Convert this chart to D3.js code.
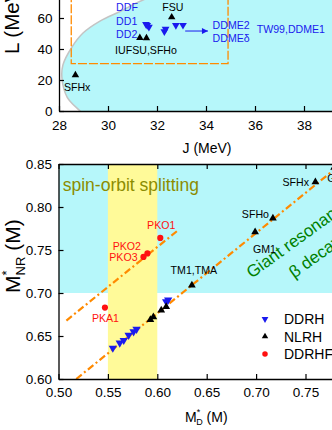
<!DOCTYPE html>
<html>
<head>
<meta charset="utf-8">
<script src="https://cdn.jsdelivr.net/npm/d3@7"></script>
<style>
  body { margin: 0; background: #fff; }
  svg { display: block; font-family: "Liberation Sans", Arial, sans-serif; }
</style>
</head>
<body>
<svg id="chart"></svg>
<script>
// ---------- top panel data: J (MeV) vs L (MeV)
const boundJ = [29.6, 28.86, 28.33, 28.12, 28.16, 28.53, 28.98, 29.67, 30.49, 31.43, 32.6, 34.0];
const boundL = [-10, 0, 9, 21.3, 29.7, 41.3, 50.3, 58, 64.2, 71.6, 77, 83];
const boxJ = [28.5, 34.9];
const boxL = [30.6, 86.8];

const nlrhTopJ = [28.67, 31.3, 31.57, 32.6];
const nlrhTopL = [23.2, 47.2, 47.1, 60.5];
const ddrhTopJ = [31.55, 31.6, 31.67, 32.3, 32.35, 32.77, 33.06];
const ddrhTopL = [56.0, 55.3, 54.2, 51.3, 52.9, 55.3, 55.4];
const arrowJ = [33.15, 34.08];
const arrowL = [51.6, 51.6];

// labels: text, J, L (label reference point), anchor, colour
const topLabels = [
  ["DDF", 30.33, 67.1, "start", "blue"],
  ["DD1", 30.33, 58.1, "start", "blue"],
  ["DD2", 30.33, 49.7, "start", "blue"],
  ["DDME2", 34.27, 55.5, "start", "blue"],
  ["DDMEδ", 34.27, 47.1, "start", "blue"],
  ["TW99,DDME1", 36.07, 52.9, "start", "blue"],
  ["FSU", 32.65, 67.1, "middle", "black"],
  ["IUFSU,SFHo", 30.29, 39.4, "start", "black"],
  ["SFHx", 28.2, 15.5, "start", "black"]
];

const topXTicks = [28, 30, 32, 34, 36, 38];
const topYTicks = [0, 20, 40, 60];

// ---------- bottom panel data: M*_D vs M*_NR
const ddrhMD = [0.555, 0.562, 0.566, 0.571, 0.576, 0.579, 0.609, 0.611];
const ddrhMNR = [0.636, 0.642, 0.645, 0.651, 0.655, 0.658, 0.690, 0.692];
const nlrhMD = [0.593, 0.596, 0.604, 0.609, 0.635, 0.699, 0.717, 0.760, 0.779];
const nlrhMNR = [0.669, 0.672, 0.680, 0.684, 0.709, 0.771, 0.787, 0.829, 0.846];
const ddrhfMD = [0.547, 0.586, 0.590, 0.603];
const ddrhfMNR = [0.683, 0.742, 0.746, 0.764];

const fitNlrhMD = [0.518, 0.80];
const fitNlrhMNR = [0.60, 0.863];
const fitDdrhfMD = [0.508, 0.62];
const fitDdrhfMNR = [0.668, 0.772];

const spinOrbitMD = [0.55, 0.60];
const resonanceMNR = [0.70, 0.85];

const bottomLabels = [
  ["PKA1", 0.5475, 0.6705, "middle", "red"],
  ["PKO2", 0.5835, 0.7545, "end", "red"],
  ["PKO3", 0.5800, 0.7415, "end", "red"],
  ["PKO1", 0.6040, 0.7790, "middle", "red"],
  ["TM1,TMA", 0.6370, 0.7265, "middle", "black"],
  ["GM1", 0.7085, 0.7505, "middle", "black"],
  ["SFHo", 0.7130, 0.7920, "end", "black"],
  ["SFHx", 0.7535, 0.8290, "end", "black"],
  ["GM3", 0.7720, 0.8340, "start", "black"]
];

const bottomXTicks = [0.50, 0.55, 0.60, 0.65, 0.70, 0.75];
const bottomYTicks = [0.60, 0.65, 0.70, 0.75, 0.80, 0.85];
const legendNames = ["DDRH", "NLRH", "DDRHF"];

const W = 332, H = 430;
const cyan = "#b6f7fa", yellow = "#fffa99", orange = "#ff8a00";
const blue = "#1a1aee", red = "#ff1010";
const tickFont = 13.5, labelFont = 10.6;

const svg = d3.select("#chart").attr("width", W).attr("height", H);
const defs = svg.append("defs");

defs.append("marker")
  .attr("id", "arrow")
  .attr("viewBox", "0 0 10 10")
  .attr("refX", 10).attr("refY", 5)
  .attr("markerWidth", 7).attr("markerHeight", 6)
  .attr("markerUnits", "userSpaceOnUse")
  .attr("orient", "auto")
  .append("path").attr("d", "M0,0L10,5L0,10Z").attr("fill", blue);

function symbolPath(type, size) {
  return d3.symbol().type(type).size(size)();
}

function drawMarkers(g, xs, ys, sx, sy, type, color, size, rot) {
  g.selectAll(null)
    .data(xs.map((d, i) => [d, ys[i]]))
    .join("path")
    .attr("d", symbolPath(type, size))
    .attr("transform", (d) => `translate(${sx(d[0])},${sy(d[1])}) rotate(${rot})`)
    .attr("fill", color);
}

function drawLabels(g, labels, sx, sy) {
  g.selectAll(null)
    .data(labels)
    .join("text")
    .attr("x", (d) => sx(d[1]))
    .attr("y", (d) => sy(d[2]))
    .attr("dy", "0.36em")
    .attr("text-anchor", (d) => d[3])
    .attr("fill", (d) => (d[4] == "blue" ? blue : d[4] == "red" ? red : "#000"))
    .attr("font-size", labelFont)
    .text((d) => d[0]);
}

function styleAxis(g) {
  g.selectAll("path.domain").attr("stroke", "#000").attr("stroke-width", 1.3);
  g.selectAll(".tick line").attr("stroke", "#000").attr("stroke-width", 1.2);
  g.selectAll("text").attr("font-size", tickFont).attr("fill", "#000").attr("font-family", null);
}

// =================== top panel
const xJ = d3.scaleLinear().domain([28, 40]).range([59, 353]);
const yL = d3.scaleLinear().domain([0, 80]).range([111, -13]);

defs.append("clipPath").attr("id", "clipTop")
  .append("rect").attr("x", xJ(28)).attr("y", yL(80))
  .attr("width", xJ(40) - xJ(28)).attr("height", yL(0) - yL(80));

const topPanel = svg.append("g");
const topPlot = topPanel.append("g").attr("clip-path", "url(#clipTop)");

const boundPts = boundJ.map((d, i) => [xJ(d), yL(boundL[i])]);
const boundLine = d3.line().curve(d3.curveCatmullRom);
topPlot.append("path")
  .attr("d", boundLine(boundPts) +
    `L${xJ(40)},${yL(90)}L${xJ(40)},${yL(-10)}Z`)
  .attr("fill", cyan);
topPlot.append("path")
  .attr("d", boundLine(boundPts))
  .attr("fill", "none")
  .attr("stroke", "#c4c4c4")
  .attr("stroke-width", 1.5);

topPlot.append("rect")
  .attr("x", xJ(boxJ[0])).attr("y", yL(boxL[1]))
  .attr("width", xJ(boxJ[1]) - xJ(boxJ[0]))
  .attr("height", yL(boxL[0]) - yL(boxL[1]))
  .attr("fill", "none")
  .attr("stroke", orange)
  .attr("stroke-width", 1.3)
  .attr("stroke-dasharray", "9,2");

topPlot.append("line")
  .attr("x1", xJ(arrowJ[0])).attr("y1", yL(arrowL[0]))
  .attr("x2", xJ(arrowJ[1])).attr("y2", yL(arrowL[1]))
  .attr("stroke", blue).attr("stroke-width", 1)
  .attr("marker-end", "url(#arrow)");

drawMarkers(topPlot, ddrhTopJ, ddrhTopL, xJ, yL, d3.symbolTriangle, blue, 26, 180);
drawMarkers(topPlot, nlrhTopJ, nlrhTopL, xJ, yL, d3.symbolTriangle, "#000", 24, 0);
drawLabels(topPlot, topLabels, xJ, yL);

// axes (ticks point inward)
const topX = topPanel.append("g").attr("transform", `translate(0,${yL(0)})`);
topX.call(d3.axisBottom(xJ).tickValues(d3.range(28, 40, 1)).tickSize(-3).tickFormat(""));
topX.call(d3.axisBottom(xJ).tickValues(topXTicks).tickSize(-5).tickSizeOuter(0).tickPadding(9));
styleAxis(topX);

const topY = topPanel.append("g").attr("transform", `translate(${xJ(28)},0)`);
topY.call(d3.axisLeft(yL).tickValues([10, 30, 50, 70]).tickSize(-3).tickFormat(""));
topY.call(d3.axisLeft(yL).tickValues(topYTicks).tickSize(-5).tickSizeOuter(0).tickPadding(6.5));
styleAxis(topY);

topPanel.append("text")
  .attr("x", 207).attr("y", 153)
  .attr("text-anchor", "middle")
  .attr("font-size", 14)
  .text("J (MeV)");

topPanel.append("text")
  .attr("transform", "translate(19,54) rotate(-90)")
  .attr("font-size", 20.5)
  .text("L (MeV)");

// =================== bottom panel
const xD = d3.scaleLinear().domain([0.5, 0.8]).range([58.5, 354.9]);
const yN = d3.scaleLinear().domain([0.6, 0.85]).range([379, 164]);

defs.append("clipPath").attr("id", "clipBottom")
  .append("rect").attr("x", xD(0.5)).attr("y", yN(0.85))
  .attr("width", xD(0.8) - xD(0.5)).attr("height", yN(0.6) - yN(0.85));

const bottomPanel = svg.append("g");
const plot = bottomPanel.append("g").attr("clip-path", "url(#clipBottom)");

plot.append("rect")
  .attr("x", xD(0.5)).attr("y", yN(resonanceMNR[1]))
  .attr("width", xD(0.8) - xD(0.5))
  .attr("height", yN(resonanceMNR[0]) - yN(resonanceMNR[1]))
  .attr("fill", cyan);
plot.append("rect")
  .attr("x", xD(spinOrbitMD[0])).attr("y", yN(0.85))
  .attr("width", xD(spinOrbitMD[1]) - xD(spinOrbitMD[0]))
  .attr("height", yN(0.6) - yN(0.85))
  .attr("fill", yellow);

plot.append("text")
  .attr("x", xD(0.5043)).attr("y", yN(0.8186))
  .attr("font-size", 17.5)
  .attr("fill", "#8c8c00")
  .text("spin-orbit splitting");

plot.append("text")
  .attr("transform", `translate(${xD(0.6955)},${yN(0.7165)}) rotate(-36)`)
  .attr("font-size", 17)
  .attr("fill", "#008000")
  .text("Giant resonance");
plot.append("text")
  .attr("transform", `translate(${xD(0.7385)},${yN(0.7165)}) rotate(-36)`)
  .attr("font-size", 17)
  .attr("fill", "#008000")
  .text("β decay");

const fitLine = d3.line().x((d) => xD(d[0])).y((d) => yN(d[1]));
[[fitNlrhMD, fitNlrhMNR], [fitDdrhfMD, fitDdrhfMNR]].forEach(([xs, ys]) => {
  plot.append("path")
    .attr("d", fitLine(xs.map((d, i) => [d, ys[i]])))
    .attr("fill", "none")
    .attr("stroke", orange)
    .attr("stroke-width", 2.2)
    .attr("stroke-dasharray", "7,3,2,3");
});

drawMarkers(plot, ddrhMD, ddrhMNR, xD, yN, d3.symbolTriangle, blue, 30, 180);
drawMarkers(plot, nlrhMD, nlrhMNR, xD, yN, d3.symbolTriangle, "#000", 26, 0);
drawMarkers(plot, ddrhfMD, ddrhfMNR, xD, yN, d3.symbolCircle, red, 30, 0);
drawLabels(plot, bottomLabels, xD, yN);

// legend
const legend = bottomPanel.append("g").attr("transform", "translate(265,319)");
const legendSym = [
  [d3.symbolTriangle, blue, 180, 20],
  [d3.symbolTriangle, "#000", 0, 18],
  [d3.symbolCircle, red, 0, 24]
];
legend.selectAll("path")
  .data(legendSym)
  .join("path")
  .attr("d", (d) => symbolPath(d[0], d[3]))
  .attr("transform", (d, i) => `translate(0,${i * 17.5}) rotate(${d[2]})`)
  .attr("fill", (d) => d[1]);
legend.selectAll("text")
  .data(legendNames)
  .join("text")
  .attr("x", 19)
  .attr("y", (d, i) => i * 17.5)
  .attr("dy", "0.36em")
  .attr("font-size", 14)
  .text((d) => d);

// axes
const botX = bottomPanel.append("g").attr("transform", `translate(0,${yN(0.6)})`);
botX.call(d3.axisBottom(xD).tickValues(d3.range(0.525, 0.8, 0.05)).tickSize(-3).tickFormat(""));
botX.call(d3.axisBottom(xD).tickValues(bottomXTicks).tickSize(-5).tickSizeOuter(0)
  .tickPadding(8.5).tickFormat(d3.format(".2f")));
styleAxis(botX);

const botTop = bottomPanel.append("g").attr("transform", `translate(0,${yN(0.85)})`);
botTop.call(d3.axisTop(xD).tickValues(d3.range(0.525, 0.8, 0.05)).tickSize(-3).tickFormat(""));
botTop.call(d3.axisTop(xD).tickValues(bottomXTicks).tickSize(-5).tickSizeOuter(0).tickFormat(""));
styleAxis(botTop);

const botY = bottomPanel.append("g").attr("transform", `translate(${xD(0.5)},0)`);
botY.call(d3.axisLeft(yN).tickValues(d3.range(0.625, 0.85, 0.05)).tickSize(-3).tickFormat(""));
botY.call(d3.axisLeft(yN).tickValues(bottomYTicks).tickSize(-5).tickSizeOuter(0)
  .tickPadding(6.5).tickFormat(d3.format(".2f")));
styleAxis(botY);

const xTitle = bottomPanel.append("text")
  .attr("x", 185).attr("y", 422)
  .attr("font-size", 14);
xTitle.append("tspan").text("M");
xTitle.append("tspan").attr("font-size", 9).attr("dy", -7).text("*");
xTitle.append("tspan").attr("font-size", 9).attr("dx", -4).attr("dy", 10).text("D");
xTitle.append("tspan").attr("dy", -3).text(" (M)");

const yTitle = bottomPanel.append("text")
  .attr("transform", "translate(20,293) rotate(-90)")
  .attr("font-size", 21);
yTitle.append("tspan").text("M");
yTitle.append("tspan").attr("font-size", 13).attr("dy", -9).text("*");
yTitle.append("tspan").attr("font-size", 13).attr("dx", -5).attr("dy", 14).text("NR");
yTitle.append("tspan").attr("dy", -5).text(" (M)");
</script>
</body>
</html>
